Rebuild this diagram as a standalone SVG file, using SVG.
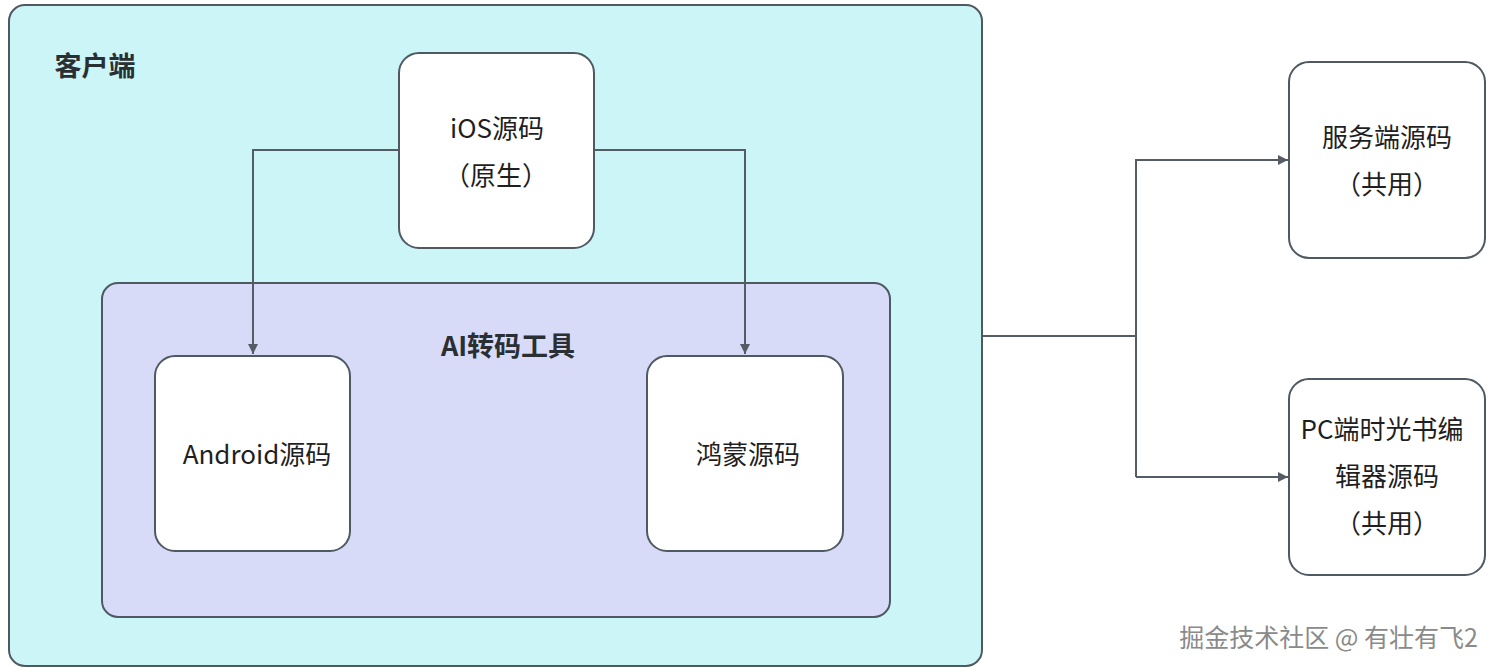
<svg xmlns="http://www.w3.org/2000/svg" width="1499" height="672" viewBox="0 0 1499 672">
<defs>
<style>
.t{font-family:"Noto Sans CJK SC","Noto Sans",sans-serif;font-size:26px;fill:#1f1f1f;text-anchor:middle}
.b{font-weight:bold;fill:#2a2f33;font-size:27px}
.box{fill:#ffffff;stroke:#4f5962;stroke-width:2}
.ln{fill:none;stroke:#555d64;stroke-width:2}
.wm{font-family:"Noto Sans CJK SC","Noto Sans",sans-serif;font-size:25px;fill:#8a8a8a;stroke:#ffffff;stroke-width:0.6;paint-order:stroke;text-anchor:end}
</style>
<marker id="ah" viewBox="0 0 10 10" refX="10" refY="5" markerWidth="10" markerHeight="10" markerUnits="userSpaceOnUse" orient="auto">
<path d="M0,0 L10,5 L0,10 z" fill="#555d64"/>
</marker>
</defs>
<rect width="1499" height="672" fill="#ffffff"/>
<g id="client">
<rect x="9" y="5" width="973" height="661" rx="16" fill="#cbf5f7" stroke="#4f5962" stroke-width="2"/>
<text class="t b" x="95" y="76">客户端</text>
</g>
<g id="ai">
<rect x="102" y="283" width="788" height="334" rx="16" fill="#d8dbf8" stroke="#4f5962" stroke-width="2"/>
<text class="t b" x="508" y="356">AI转码工具</text>
</g>
<g id="ios">
<rect class="box" x="399" y="53" width="195" height="195" rx="20"/>
<text class="t" x="497" y="138">iOS源码</text>
<text class="t" x="496" y="185">（原生）</text>
</g>
<g id="android">
<rect class="box" x="155" y="356" width="195" height="195" rx="20"/>
<text class="t" x="257" y="464">Android源码</text>
</g>
<g id="harmony">
<rect class="box" x="647" y="356" width="196" height="195" rx="20"/>
<text class="t" x="748" y="464">鸿蒙源码</text>
</g>
<g id="server">
<rect class="box" x="1289" y="62" width="196" height="196" rx="20"/>
<text class="t" x="1387" y="147">服务端源码</text>
<text class="t" x="1387" y="194">（共用）</text>
</g>
<g id="pc">
<rect class="box" x="1289" y="379" width="196" height="196" rx="20"/>
<text class="t" x="1382" y="439">PC端时光书编</text>
<text class="t" x="1387" y="486">辑器源码</text>
<text class="t" x="1387" y="533">（共用）</text>
</g>
<g id="connectors">
<path class="ln" d="M399,150 H253 V354" marker-end="url(#ah)"/>
<path class="ln" d="M594,150 H745 V354" marker-end="url(#ah)"/>
<path class="ln" d="M983,336 H1136"/>
<path class="ln" d="M1136,477 V160 H1288" marker-end="url(#ah)"/>
<path class="ln" d="M1136,477 H1288" marker-end="url(#ah)"/>
</g>
<text class="wm" x="1478" y="647">掘金技术社区 @ 有壮有飞2</text>
</svg>
